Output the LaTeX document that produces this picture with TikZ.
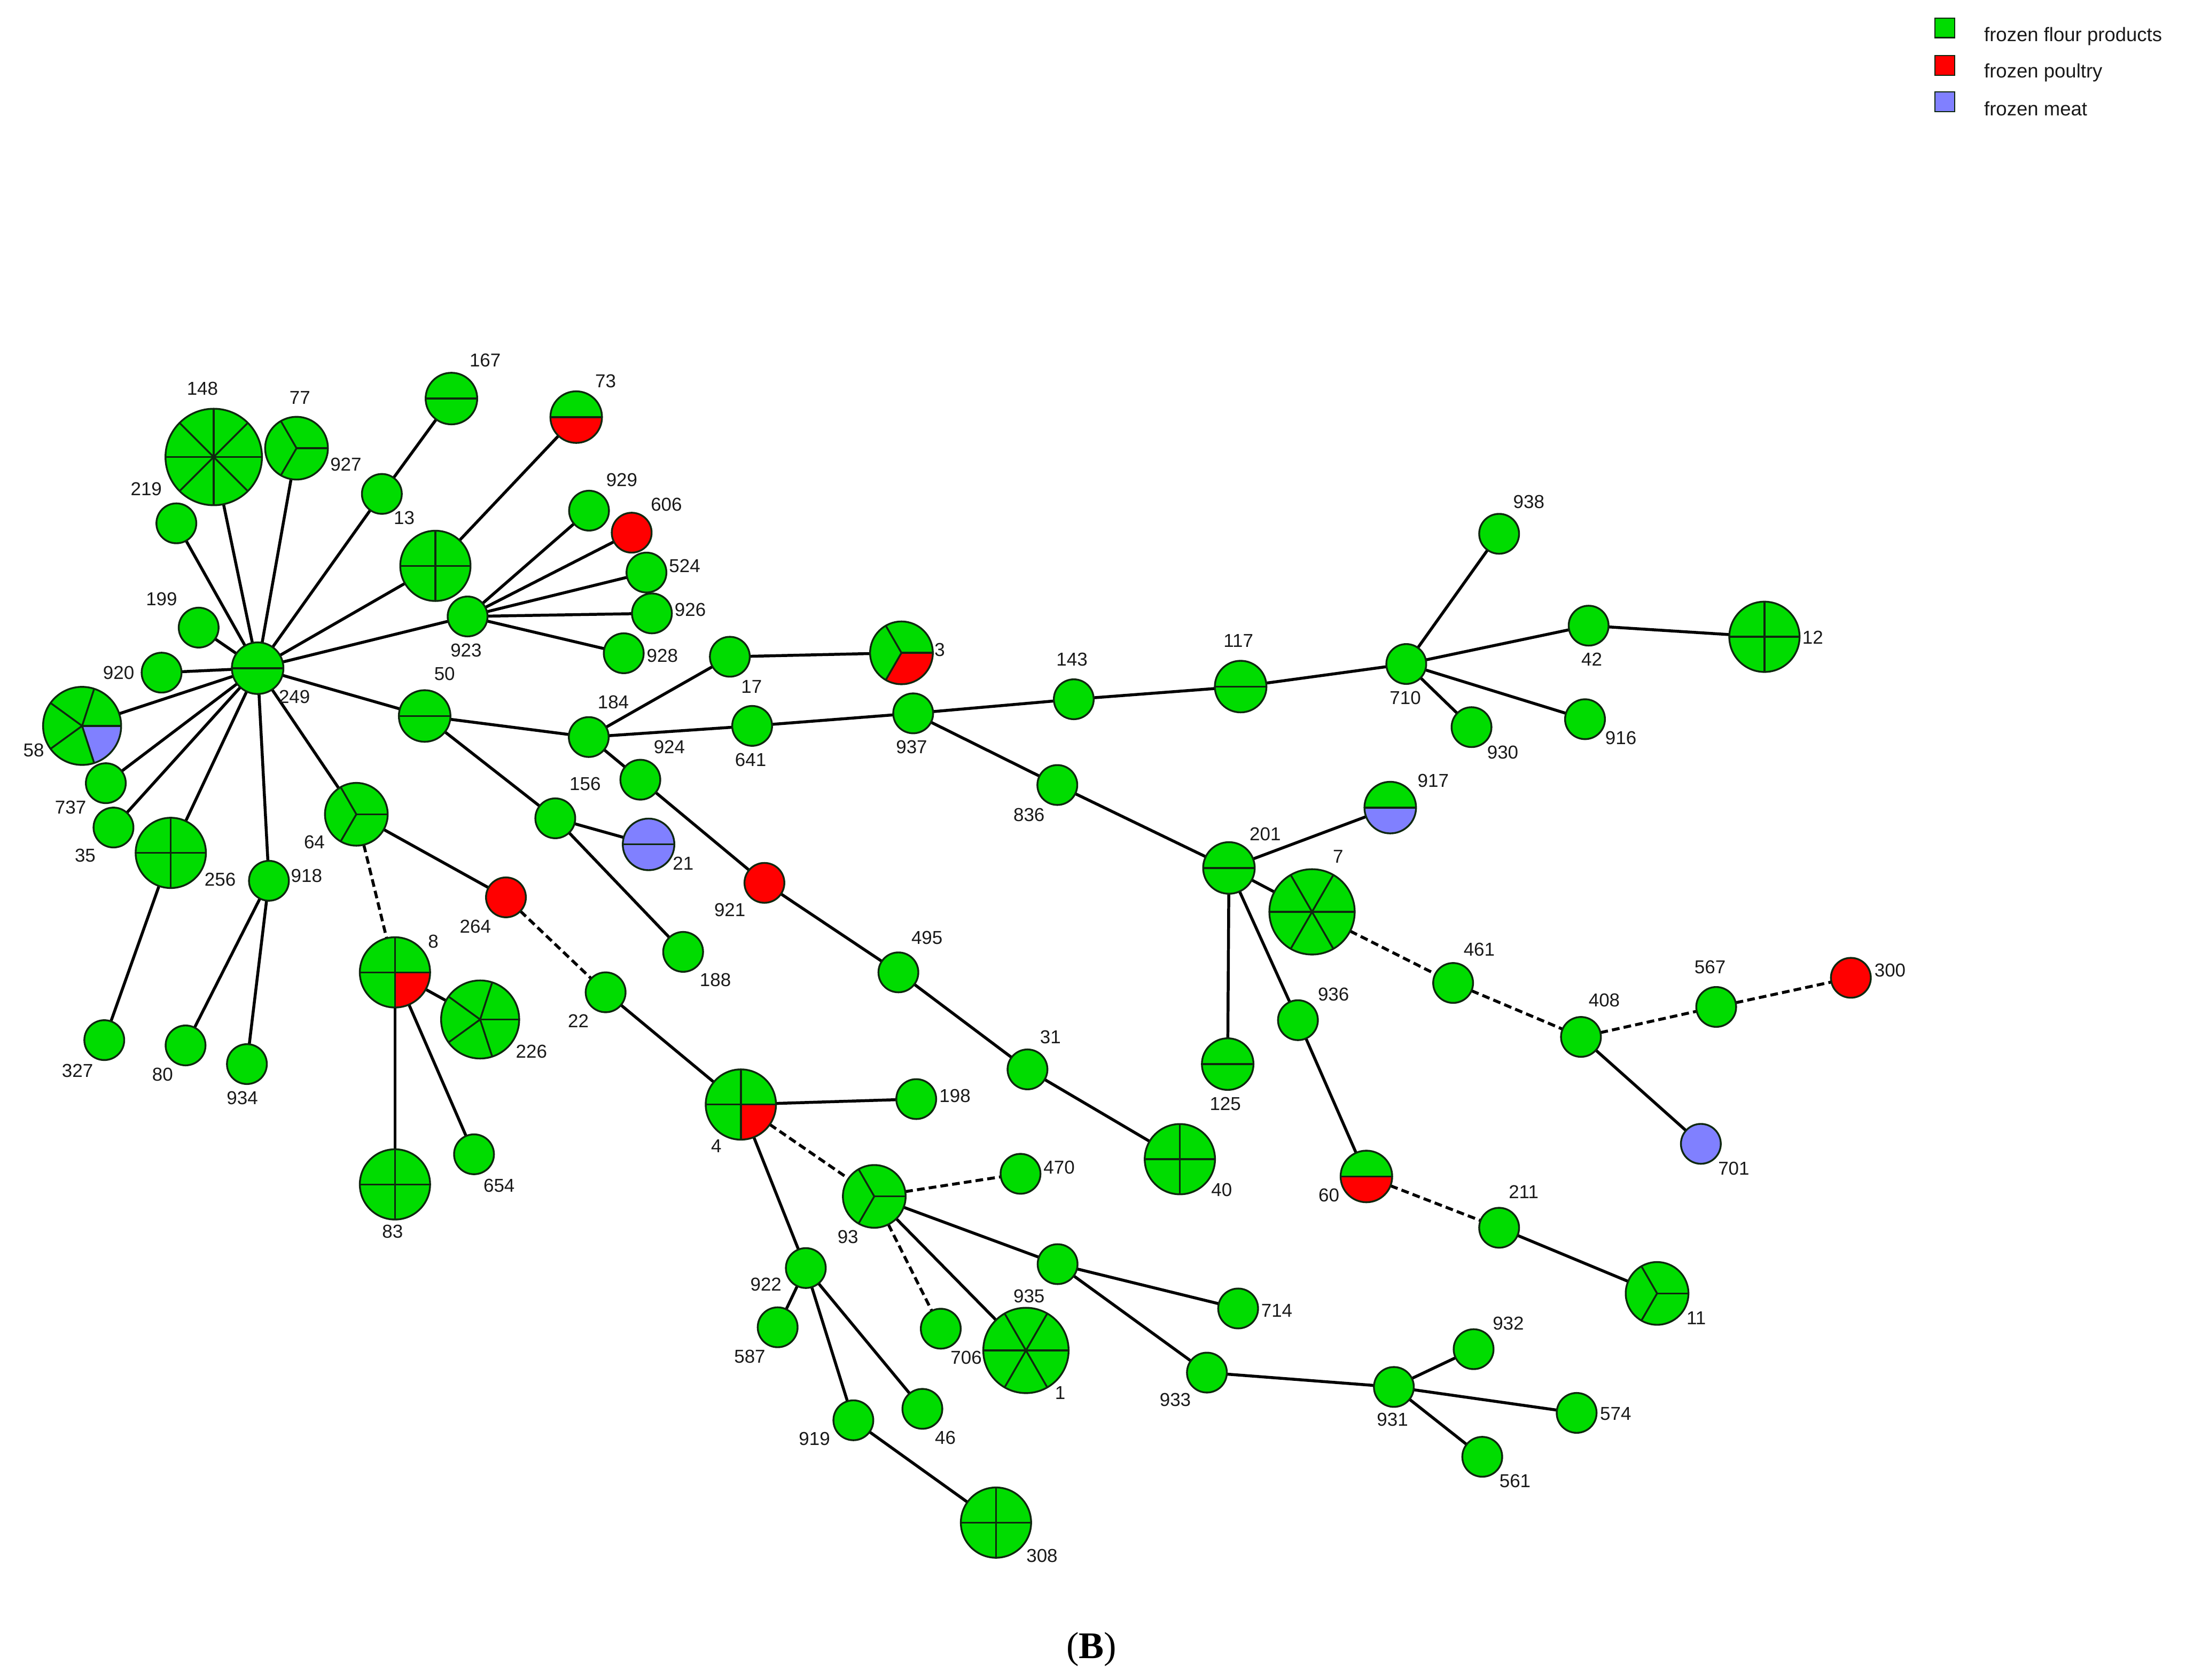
\documentclass[tikz,border=0pt]{standalone}
\usepackage{fontspec}
\setmainfont{Liberation Sans}
\newfontfamily\capserif{Liberation Serif}
\usetikzlibrary{backgrounds}
\definecolor{cg}{RGB}{0,220,0}
\definecolor{cr}{RGB}{255,0,0}
\definecolor{cb}{RGB}{128,128,255}
\definecolor{ink}{RGB}{25,25,25}
\definecolor{rim}{RGB}{15,40,15}

% name, x, y, radius, slices, colours
\newcommand{\mstnode}[6]{%
  \node[mstnd, minimum size={2*#4pt}] (#1) at (#2,#3) {};
  \foreach \col [count=\k] in {#6} {
    \pgfmathsetmacro\angA{(\k-1)*360/#5}
    \pgfmathsetmacro\angB{\k*360/#5}
    \fill[\col] (#1.center) -- ++(\angA:#4pt) arc[start angle=\angA, end angle=\angB, radius=#4pt] -- cycle;
  }
  \ifnum#5>1
    \foreach \k in {1,...,#5} {
      \pgfmathsetmacro\angA{(\k-1)*360/#5}
      \draw[divline] (#1.center) -- ++(\angA:#4pt);
    }
  \fi
  \draw[ringline] (#1.center) circle[radius=#4pt];
}

\begin{document}
\begin{tikzpicture}[x=1pt,y=-1pt,
  mstnd/.style={circle, inner sep=0pt, outer sep=0pt},
  divline/.style={draw=rim, line width=1.3pt},
  ringline/.style={draw=rim, line width=1.3pt},
  edge/.style={draw=black, line width=2.1pt},
  dedge/.style={draw=black, line width=2.1pt, dash pattern=on 5.5pt off 3pt},
  lbl/.style={text=ink, font=\fontsize{13.4}{15}\selectfont, inner sep=0pt},
  legsq/.style={draw=rim, line width=0.8pt, minimum size=14pt, inner sep=0pt},
  legtx/.style={text=ink, font=\fontsize{14}{16}\selectfont, inner sep=0pt, anchor=west}
]
\useasboundingbox (0,0) rectangle (1568,1205);

% ---------- nodes ----------
\mstnode{n148}{153.3}{327.8}{34.6}{8}{cg,cg,cg,cg,cg,cg,cg,cg}
\mstnode{n77}{212.7}{321.5}{22.5}{3}{cg,cg,cg}
\mstnode{n219}{126.5}{375.4}{14.3}{1}{cg}
\mstnode{n13}{273.9}{354.3}{14.3}{1}{cg}
\mstnode{n167}{323.8}{285.9}{18.5}{2}{cg,cg}
\mstnode{nX}{312.3}{405.9}{25.2}{4}{cg,cg,cg,cg}
\mstnode{n73}{413.3}{299.2}{18.5}{2}{cg,cr}
\mstnode{n929}{422.5}{366.3}{14.3}{1}{cg}
\mstnode{n606}{453.1}{382.1}{14.3}{1}{cr}
\mstnode{n524}{463.7}{410.7}{14.3}{1}{cg}
\mstnode{n926}{467.6}{440.0}{14.3}{1}{cg}
\mstnode{n928}{447.4}{468.6}{14.3}{1}{cg}
\mstnode{n923}{335.4}{442.2}{14.3}{1}{cg}
\mstnode{n199}{142.5}{450.2}{14.3}{1}{cg}
\mstnode{n920}{115.9}{482.5}{14.3}{1}{cg}
\mstnode{n249}{184.8}{479.3}{18.5}{2}{cg,cg}
\mstnode{n50}{304.6}{513.6}{18.5}{2}{cg,cg}
\mstnode{n58}{58.9}{520.7}{28}{5}{cg,cg,cg,cg,cb}
\mstnode{n737}{75.9}{561.8}{14.3}{1}{cg}
\mstnode{n35}{81.4}{593.6}{14.3}{1}{cg}
\mstnode{n256}{122.5}{611.8}{25.2}{4}{cg,cg,cg,cg}
\mstnode{n918}{192.9}{631.8}{14.3}{1}{cg}
\mstnode{n64}{255.6}{584.1}{22.5}{3}{cg,cg,cg}
\mstnode{n8}{283.3}{697.5}{25.2}{4}{cg,cg,cg,cr}
\mstnode{n327}{74.8}{746.1}{14.3}{1}{cg}
\mstnode{n80}{133.1}{749.9}{14.3}{1}{cg}
\mstnode{n934}{177.1}{763.3}{14.3}{1}{cg}
\mstnode{n264}{362.9}{643.7}{14.3}{1}{cr}
\mstnode{n226}{344.4}{731.3}{28}{5}{cg,cg,cg,cg,cg}
\mstnode{n83}{283.3}{849.6}{25.2}{4}{cg,cg,cg,cg}
\mstnode{n654}{340.0}{828.0}{14.3}{1}{cg}
\mstnode{n22}{434.4}{711.8}{14.3}{1}{cg}
\mstnode{n156}{398.3}{587.0}{14.3}{1}{cg}
\mstnode{n21}{465.2}{605.7}{18.5}{2}{cb,cb}
\mstnode{n188}{490.0}{682.8}{14.3}{1}{cg}
\mstnode{n184}{422.3}{528.7}{14.3}{1}{cg}
\mstnode{n924}{459.3}{559.3}{14.3}{1}{cg}
\mstnode{n17}{523.5}{471.1}{14.3}{1}{cg}
\mstnode{n641}{539.5}{520.7}{14.3}{1}{cg}
\mstnode{n3}{646.6}{468.3}{22.5}{3}{cg,cg,cr}
\mstnode{n937}{655.0}{511.7}{14.3}{1}{cg}
\mstnode{n921}{548.3}{633.3}{14.3}{1}{cr}
\mstnode{n495}{644.4}{697.5}{14.3}{1}{cg}
\mstnode{n31}{737.0}{767.1}{14.3}{1}{cg}
\mstnode{n40}{846.3}{831.5}{25.2}{4}{cg,cg,cg,cg}
\mstnode{n4}{531.4}{792.3}{25.2}{4}{cg,cg,cg,cr}
\mstnode{n198}{657.2}{788.4}{14.3}{1}{cg}
\mstnode{n93}{627.1}{858.2}{22.5}{3}{cg,cg,cg}
\mstnode{n470}{732.0}{842.0}{14.3}{1}{cg}
\mstnode{n922}{578.0}{909.6}{14.3}{1}{cg}
\mstnode{n587}{557.8}{952.1}{14.3}{1}{cg}
\mstnode{n919}{612.1}{1018.8}{14.3}{1}{cg}
\mstnode{n46}{661.6}{1010.6}{14.3}{1}{cg}
\mstnode{n308}{714.4}{1092.2}{25.2}{4}{cg,cg,cg,cg}
\mstnode{n706}{674.8}{953.1}{14.3}{1}{cg}
\mstnode{n1}{735.9}{968.7}{30.6}{6}{cg,cg,cg,cg,cg,cg}
\mstnode{n935}{758.6}{906.8}{14.3}{1}{cg}
\mstnode{n714}{888.1}{938.6}{14.3}{1}{cg}
\mstnode{n933}{865.7}{984.6}{14.3}{1}{cg}
\mstnode{n931}{999.8}{994.9}{14.3}{1}{cg}
\mstnode{n932}{1057.0}{967.8}{14.3}{1}{cg}
\mstnode{n574}{1130.9}{1013.5}{14.3}{1}{cg}
\mstnode{n561}{1063.2}{1045.0}{14.3}{1}{cg}
\mstnode{n143}{770.2}{501.6}{14.3}{1}{cg}
\mstnode{n117}{889.9}{492.5}{18.5}{2}{cg,cg}
\mstnode{n710}{1008.7}{476.3}{14.3}{1}{cg}
\mstnode{n938}{1075.3}{382.9}{14.3}{1}{cg}
\mstnode{n42}{1139.5}{448.8}{14.3}{1}{cg}
\mstnode{n12}{1265.6}{456.8}{25.2}{4}{cg,cg,cg,cg}
\mstnode{n930}{1055.5}{521.6}{14.3}{1}{cg}
\mstnode{n916}{1136.9}{515.9}{14.3}{1}{cg}
\mstnode{n836}{758.4}{563.1}{14.3}{1}{cg}
\mstnode{n201}{881.5}{622.6}{18.5}{2}{cg,cg}
\mstnode{n917}{997.2}{579.3}{18.5}{2}{cg,cb}
\mstnode{n7}{941.1}{654.1}{30.6}{6}{cg,cg,cg,cg,cg,cg}
\mstnode{n125}{880.6}{763.3}{18.5}{2}{cg,cg}
\mstnode{n936}{931.0}{731.8}{14.3}{1}{cg}
\mstnode{n60}{980.1}{843.9}{18.5}{2}{cg,cr}
\mstnode{n211}{1075.3}{880.7}{14.3}{1}{cg}
\mstnode{n11}{1188.6}{927.8}{22.5}{3}{cg,cg,cg}
\mstnode{n461}{1042.3}{705.1}{14.3}{1}{cg}
\mstnode{n408}{1134.0}{743.8}{14.3}{1}{cg}
\mstnode{n567}{1231.0}{722.3}{14.3}{1}{cg}
\mstnode{n300}{1327.6}{701.4}{14.3}{1}{cr}
\mstnode{n701}{1220.0}{820.5}{14.3}{1}{cb}

% ---------- connectors ----------
\begin{pgfonlayer}{background}
\foreach \a/\b in {n249/n148, n249/n77, n249/n219, n249/n13, n13/n167, n249/nX, nX/n73,
  n249/n923, n923/n929, n923/n606, n923/n524, n923/n926, n923/n928, n249/n199, n249/n920,
  n249/n58, n249/n737, n249/n35, n249/n256, n256/n327, n249/n918, n918/n80, n918/n934,
  n249/n64, n64/n264, n249/n50, n50/n184, n50/n156, n156/n21, n156/n188, n184/n17, n17/n3,
  n184/n641, n641/n937, n184/n924, n924/n921, n921/n495, n495/n31, n31/n40, n22/n4,
  n8/n226, n8/n83, n8/n654, n4/n198, n4/n922, n922/n587, n922/n919, n922/n46, n919/n308,
  n93/n1, n93/n935, n935/n714, n935/n933, n933/n931, n931/n932, n931/n574, n931/n561,
  n937/n143, n143/n117, n117/n710, n710/n938, n710/n42, n42/n12, n710/n930, n710/n916,
  n937/n836, n836/n201, n201/n917, n201/n7, n201/n125, n201/n936, n936/n60, n211/n11,
  n408/n701}
  \draw[edge] (\a) -- (\b);
\foreach \a/\b in {n64/n8, n264/n22, n4/n93, n93/n470, n93/n706, n60/n211, n7/n461,
  n461/n408, n408/n567, n567/n300}
  \draw[dedge] (\a) -- (\b);
\end{pgfonlayer}

% ---------- labels ----------
\foreach \t/\x/\y in {148/145.2/278.6, 77/215.1/285.3, 927/248.1/333.3, 219/104.9/350.6,
  13/289.9/371.4, 167/348/258.6, 73/434.4/273.5, 929/446/344.4, 606/478/361.9,
  524/491.1/405.9, 926/495.1/437.2, 928/475.1/470.2, 923/334.3/466.4, 199/115.9/429.6,
  920/85.1/482.5, 249/211.2/499.7, 58/24.2/538.2, 737/50.6/579.3, 35/61.1/613.7,
  256/157.9/630.8, 918/219.9/628.3, 327/55.6/768, 80/116.6/770.9, 934/173.8/787.7,
  64/225.5/604.1, 50/318.9/483.5, 264/341/664.5, 8/310.8/675.2, 226/381.2/754.1,
  83/281.6/883.4, 654/358/850.6, 22/414.8/732.2, 156/419.7/562.2, 21/490/619.4,
  188/513.1/702.9, 184/439.9/503.5, 924/480.1/535.9, 17/539.1/492.5, 641/538.4/545,
  3/674.1/466.3, 937/653.9/535.9, 921/523.5/652.7, 495/664.9/672.8, 31/753.5/743.8,
  40/876.3/853.4, 4/513.8/822, 198/685/786, 93/608.2/887.1, 470/759.7/837.6,
  922/549.4/921.4, 587/537.8/972.9, 919/584.2/1032, 46/678.1/1031.3, 308/747.4/1115.9,
  706/693/974, 1/760.5/999.2, 935/738.1/929.6, 714/915.8/940.1, 933/843/1004,
  931/998.8/1018.3, 932/1081.9/949.3, 574/1158.9/1014.1, 561/1086.7/1062.2,
  143/768.9/473, 117/888.3/459.7, 710/1008/500.7, 938/1096.6/360, 42/1141.7/473,
  12/1300.3/457.2, 930/1077.9/539.7, 916/1162.6/529.3, 836/738.1/584.5, 201/907.5/598.4,
  917/1028/560, 7/959.8/614.6, 125/878.9/791.9, 936/956.5/713.3, 60/953.2/857.2,
  211/1092.9/854.9, 11/1216.7/945.3, 461/1061/681, 408/1150.7/717.6, 567/1226.6/693.7,
  300/1355.7/696.2, 701/1243.6/838.2}
  \node[lbl] (t\t) at (\x,\y) {\t};

% ---------- legend ----------
\node[legsq, fill=cg] (k1) at (1395,20) {};
\node[legsq, fill=cr] (k2) at (1395,47) {};
\node[legsq, fill=cb] (k3) at (1395,73) {};
\node[legtx] (kt1) at (1423,26) {frozen flour products};
\node[legtx] (kt2) at (1423,52) {frozen poultry};
\node[legtx] (kt3) at (1423,78) {frozen meat};

% ---------- caption ----------
\node[text=black, inner sep=0pt, font=\capserif\fontsize{27}{30}\selectfont] (cap) at (783,1183) {(\textbf{B})};
\end{tikzpicture}
\end{document}
